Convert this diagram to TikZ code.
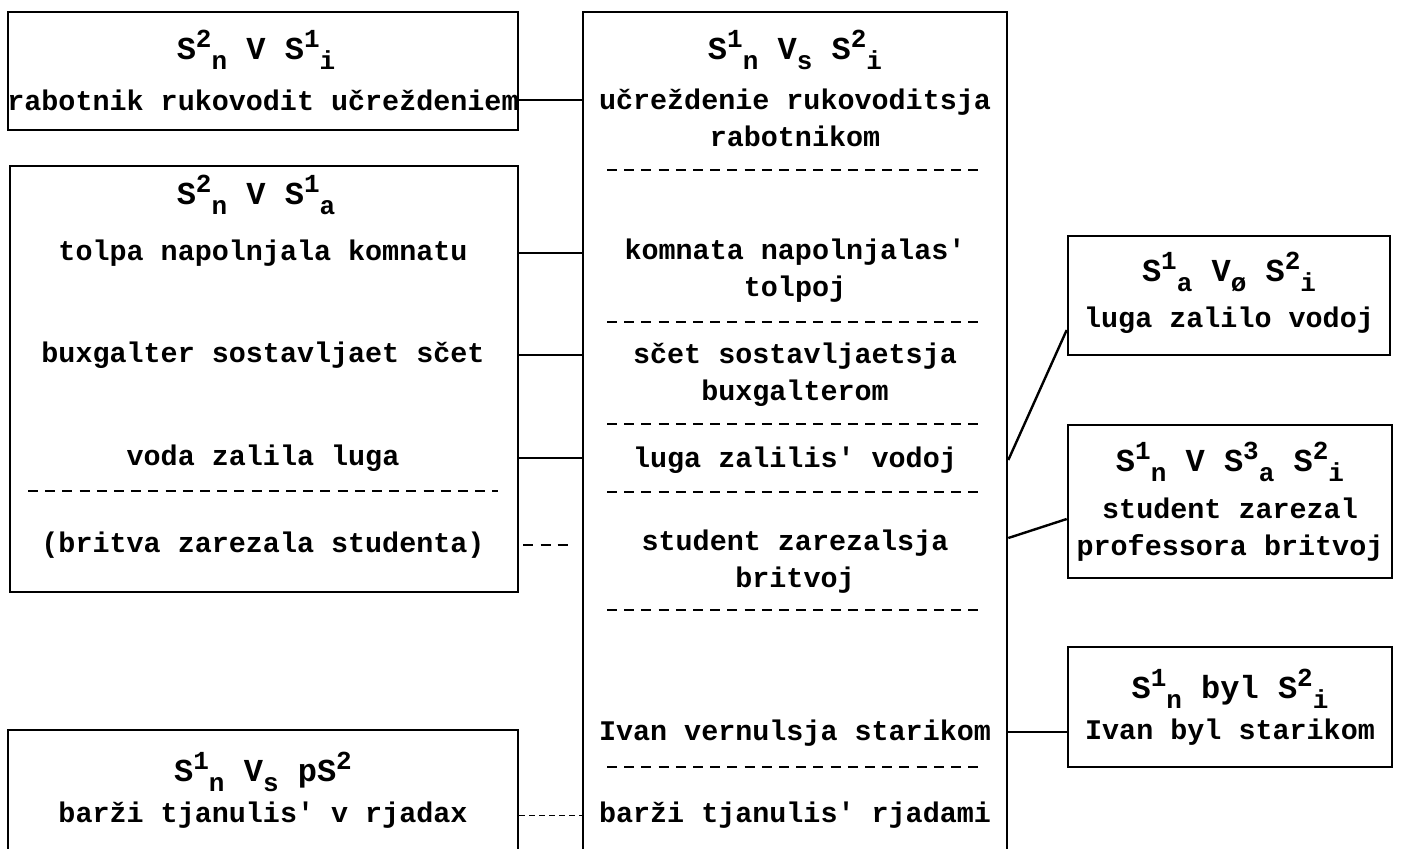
\documentclass[tikz,border=0pt]{standalone}
\usepackage{fontspec}
\setmonofont{Liberation Mono}
\usetikzlibrary{positioning}

\newcommand{\supx}[1]{\raisebox{0.7ex}{\fontsize{13}{13}\selectfont#1}}
\newcommand{\subx}[1]{\raisebox{-0.6ex}{\fontsize{13}{13}\selectfont#1}}
\newcommand{\Sx}[2]{S\supx{#1}\subx{#2}}

\begin{document}
\begin{tikzpicture}[x=0.5pt,y=-0.5pt,font=\ttfamily\bfseries\fontsize{14.2}{18.5}\selectfont]
\tikzstyle{box} = [draw, line width=1.3pt, inner sep=0pt]
\tikzstyle{txt} = [align=center, inner sep=1pt]
\tikzstyle{title} = [txt, font=\ttfamily\bfseries\fontsize{16}{18}\selectfont]
\tikzstyle{line} = [draw, line width=1.2pt]
\tikzstyle{sep} = [draw, line width=1.3pt, dash pattern=on 5pt off 3.6pt]

\useasboundingbox (0,0) rectangle (1402,848);
\clip (0,0) rectangle (1402,848);

% frames
\node [box, minimum width=255pt, minimum height=59pt] (boxA) at (263,71) {};
\node [box, minimum width=254pt, minimum height=213pt] (boxB) at (264,379) {};
\node [box, minimum width=255pt, minimum height=70pt] (boxC) at (263,800) {};
\node [box, minimum width=212pt, minimum height=428pt] (centre) at (795,440) {};
\node [box, minimum width=161pt, minimum height=59.5pt] (boxD) at (1229,295.5) {};
\node [box, minimum width=162pt, minimum height=76.5pt] (boxE) at (1230,501.5) {};
\node [box, minimum width=162pt, minimum height=60pt] (boxF) at (1230,707) {};

% left column
\node [title] (aT) at (256,50) {\Sx{2}{n} V \Sx{1}{i}};
\node [txt] (a1) at (263,100) {rabotnik rukovodit učreždeniem};
\node [title] (bT) at (256,195) {\Sx{2}{n} V \Sx{1}{a}};
\node [txt] (b1) at (263,253) {tolpa napolnjala komnatu};
\node [txt] (b2) at (263,355) {buxgalter sostavljaet sčet};
\node [txt] (b3) at (263,458) {voda zalila luga};
\node [txt] (b4) at (263,545) {(britva zarezala studenta)};
\node [title] (cT) at (263,772) {\Sx{1}{n} V\subx{s} pS\supx{2}};
\node [txt] (cc1) at (263,815) {barži tjanulis' v rjadax};
\draw [sep] (28,491) -- (498,491);

% centre column
\node [title] (mT) at (795,50) {\Sx{1}{n} V\subx{s} \Sx{2}{i}};
\node [txt] (m1) at (795,118) {učreždenie rukovoditsja\\rabotnikom};
\node [txt] (m2) at (795,271) {komnata napolnjalas'\\tolpoj};
\node [txt] (m3) at (795,375) {sčet sostavljaetsja\\buxgalterom};
\node [txt] (m4) at (795,460) {luga zalilis' vodoj};
\node [txt] (m5) at (795,562) {student zarezalsja\\britvoj};
\node [txt] (m6) at (795,733) {Ivan vernulsja starikom};
\node [txt] (m7) at (795,815) {barži tjanulis' rjadami};
\foreach \y in {170,322,424,492,610,767}
  \draw [sep] (607,\y) -- (985,\y);

% right column
\node [title] (dT) at (1229,272) {\Sx{1}{a} V\subx{ø} \Sx{2}{i}};
\node [txt] (d1) at (1229,320) {luga zalilo vodoj};
\node [title] (eT) at (1230,462) {\Sx{1}{n} V \Sx{3}{a} \Sx{2}{i}};
\node [txt] (e1) at (1230,530) {student zarezal\\professora britvoj};
\node [title] (fT) at (1230,689) {\Sx{1}{n} byl \Sx{2}{i}};
\node [txt] (f1) at (1230,732) {Ivan byl starikom};

% connectors
\path [line] (boxA.east |- a1) -- (centre.west |- a1);
\path [line] (boxB.east |- b1) -- (centre.west |- b1);
\path [line] (boxB.east |- b2) -- (centre.west |- b2);
\path [line] (boxB.east |- b3) -- (centre.west |- b3);
\path [sep, shorten <=2pt, shorten >=7pt] (boxB.east |- b4) -- (centre.west |- b4);
\path [draw, thin, dash pattern=on 3pt off 2pt] (boxC.east |- cc1) -- (centre.west |- m7);
\path [line] (centre.east |- m4) -- ([yshift=-5pt]boxD.west |- d1);
\path [line] ([yshift=-4pt]centre.east |- e1) -- ([yshift=5.5pt]boxE.west |- e1);
\path [line] (centre.east |- f1) -- (boxF.west |- f1);

\end{tikzpicture}
\end{document}
